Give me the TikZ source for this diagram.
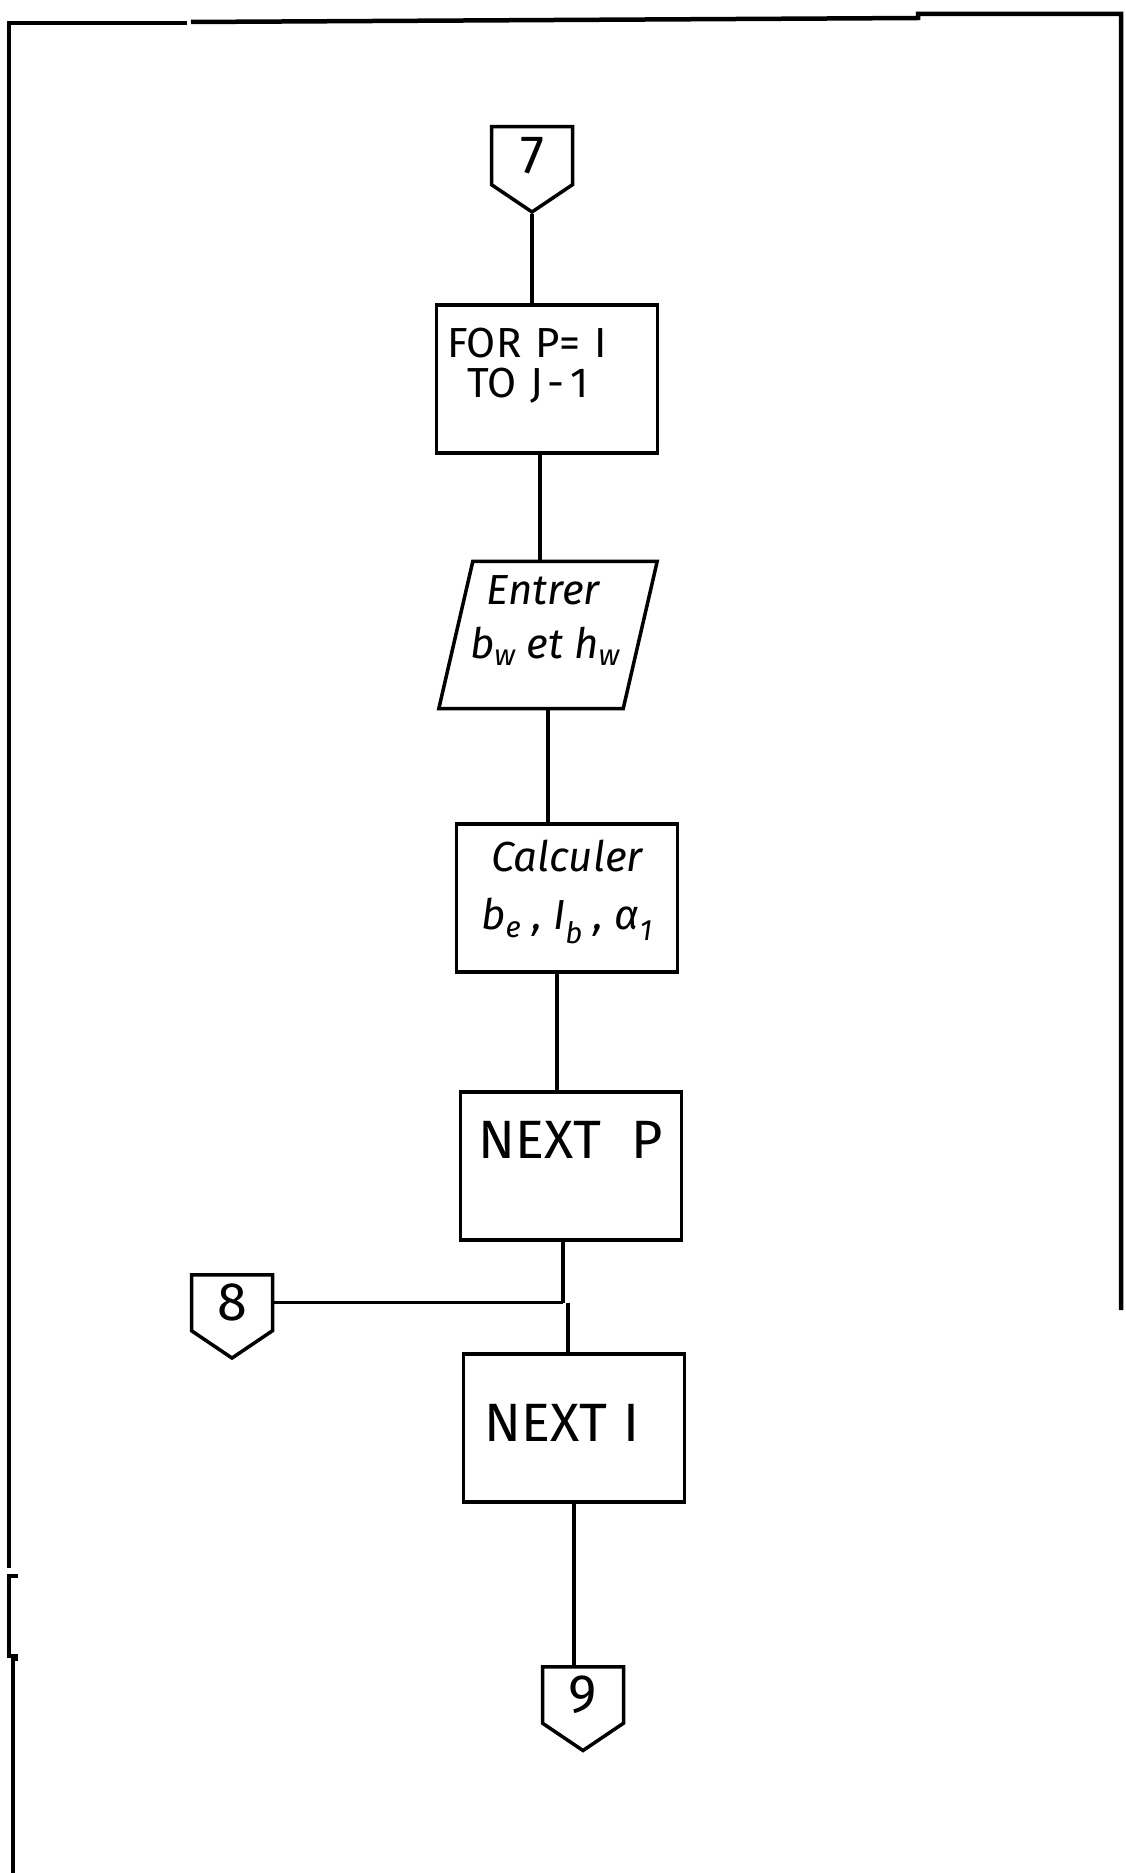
\documentclass[tikz,border=0pt]{standalone}
\usepackage{fontspec}
\setmainfont{Fira Sans}
\usepackage{xcolor}
\definecolor{cInk}{HTML}{000000}
\usepackage{tikz}
\usetikzlibrary{shapes.symbols}
\tikzset{
  node-box/.style={draw=cInk,line width=3.5pt,minimum width=221pt,
    minimum height=148pt,inner sep=0pt,align=center},
  node-io/.style={minimum width=218pt,minimum height=147pt,inner sep=0pt,
    align=center},
  node-link/.style={draw=cInk,line width=3.5pt,shape=signal,signal to=south,
    signal from=nowhere,signal pointer angle=112,minimum width=81pt,
    minimum height=66pt,inner sep=0pt,font=\fontsize{54}{58}\selectfont},
  line-flow/.style={line width=3.5pt,draw=cInk},
  line-frame/.style={line width=4.5pt,draw=cInk},
}

\begin{document}
\begin{tikzpicture}[x=1pt,y=-1pt]
  \useasboundingbox (0,0) rectangle (1126,1873);
  % page edge
  \draw[line-frame] (187,23) -- (9,23) -- (9,1568);
  \draw[line-frame] (191,22) -- (918,18) -- (918,14) -- (1121,14) -- (1121,1310);
  \draw[line-frame] (18,1576) -- (9,1576) -- (9,1656) -- (18,1656);
  \draw[line-frame] (18,1659) -- (13,1659) -- (13,1873);
  \node[node-link,anchor=north] (c7) at (532,125) {7};
  \node[node-box,text width=200pt,align=left,text depth=72pt,
    font=\fontsize{42}{40}\selectfont]
    (forp) at (547,379) {FOR P= I\\\hspace*{20pt}TO\hspace{14pt}J\hspace{4pt}-\hspace{6pt}1};
  \node[node-io,text depth=36pt,font=\fontsize{42}{54}\selectfont\itshape]
    (entrer) at (548,635) {Entrer\hspace*{10pt}\\b\textsubscript{w} et h\textsubscript{w}\hspace*{6pt}};
  \draw[line-flow] ([xshift=34pt]entrer.north west) -- (entrer.north east)
    -- ([xshift=-34pt]entrer.south east) -- (entrer.south west) -- cycle;
  \node[node-box,text depth=26pt,font=\fontsize{42}{58}\selectfont\itshape]
    (calc) at (567,898) {Calculer\\b\textsubscript{e} , I\textsubscript{b} , α\textsubscript{1}};
  \node[node-box,font=\fontsize{54}{60}\selectfont,text height=40pt,text depth=56pt]
    (nextp) at (571,1166) {NEXT\hspace{30pt}P};
  \node[node-box,font=\fontsize{54}{60}\selectfont,text height=40pt,text depth=14pt]
    (nexti) at (574,1428) {NEXT\hspace{16pt}I\hspace*{24pt}};
  \node[node-link,anchor=north] (c8) at (232,1273) {8};
  \node[node-link,anchor=north] (c9) at (583,1665) {9};
  \draw[line-flow] (c7.south) -- (c7.south |- forp.north);
  \draw[line-flow] ([xshift=-7pt]forp.south) -- ([xshift=-7pt]forp.south |- entrer.north);
  \draw[line-flow] (entrer.south) -- (entrer.south |- calc.north);
  \draw[line-flow] ([xshift=-10pt]calc.south) -- ([xshift=-10pt]calc.south |- nextp.north);
  \coordinate (jn) at ([xshift=-8pt]nextp.south |- c8.east);
  \draw[line-flow] ([xshift=-8pt]nextp.south) -- (jn);
  \draw[line-flow] (c8.east) -- (jn);
  \draw[line-flow] ([xshift=-6pt]nexti.north |- jn) -- ([xshift=-6pt]nexti.north);
  \draw[line-flow] (nexti.south) -- (nexti.south |- c9.north);
\end{tikzpicture}
\end{document}
